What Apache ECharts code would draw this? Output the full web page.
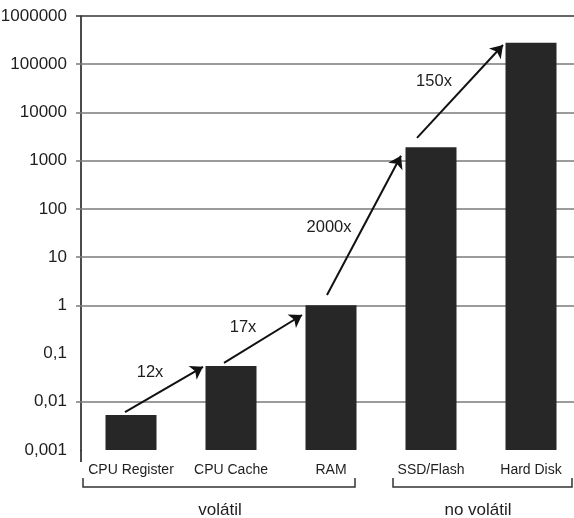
<!DOCTYPE html>
<html><head><meta charset="utf-8">
<script src="https://cdn.jsdelivr.net/npm/echarts@6/dist/echarts.min.js"></script>
<style>html,body{margin:0;padding:0;background:#fff}#c{width:574px;height:518px}</style>
</head><body><div id="c"></div>
<script>
const categories = ['CPU Register', 'CPU Cache', 'RAM', 'SSD/Flash', 'Hard Disk'];
const latency = [0.0053, 0.055, 1, 1900, 280000];
const yTicks = [0.001, 0.01, 0.1, 1, 10, 100, 1000, 10000, 100000, 1000000];
const gridValues = [0.01, 1, 10, 100, 1000, 10000, 100000, 1000000];
const arrowStarts = [[-0.06, 0.0061], [0.93, 0.064], [1.96, 1.64], [2.86, 2960]];
const arrowEnds = [[0.72, 0.053], [1.71, 0.63], [2.70, 1260], [3.72, 250000]];
const ratioLabels = ['12x', '17x', '2000x', '150x'];
const ratioPos = [[0.19, 0.0415], [1.12, 0.356], [1.98, 40.4], [3.03, 43000]];
const groups = ['volátil', 'no volátil'];

const FONT = "'Liberation Sans',Arial,sans-serif";
const yMin = 0.001, yMax = 1000000;
const TXT = '#1e1e1e';

const chart = echarts.init(document.getElementById('c'), null, {renderer: 'canvas'});
chart.setOption({
  animation: false,
  backgroundColor: '#fff',
  grid: {left: 81, top: 16, width: 500, height: 434, containLabel: false, outerBoundsMode: 'none'},
  xAxis: [
    {type: 'category', data: categories, gridIndex: 0,
     axisLine: {show: false}, axisTick: {show: false}, splitLine: {show: false},
     axisLabel: {margin: 13, fontSize: 14, color: TXT, fontFamily: FONT, interval: 0}},
    {type: 'value', min: -0.5, max: 4.5, show: false, gridIndex: 0}
  ],
  yAxis: {
    type: 'log', logBase: 10, min: yMin, max: yMax, splitNumber: 9,
    axisLine: {show: true, onZero: false, lineStyle: {color: '#111', width: 1.5}},
    axisTick: {show: false},
    splitLine: {show: false},
    axisLabel: {customValues: yTicks, margin: 14, fontSize: 17, color: TXT, fontFamily: FONT,
      formatter: v => (v < 1 ? String(+v.toPrecision(3)).replace('.', ',') : String(Math.round(v)))}
  },
  graphic: [
    {type: 'line', shape: {x1: 81, y1: 450, x2: 81, y2: 462}, style: {stroke: '#111', lineWidth: 1.5}},
    {type: 'polyline', shape: {points: [[83, 478], [83, 487], [355, 487], [355, 478]]}, style: {stroke: '#333', lineWidth: 1.5, fill: null}},
    {type: 'polyline', shape: {points: [[393, 478], [393, 487], [572, 487], [572, 478]]}, style: {stroke: '#333', lineWidth: 1.5, fill: null}},
    {type: 'text', x: 220, y: 510, style: {text: groups[0], fill: TXT, font: '17px ' + FONT, textAlign: 'center', textVerticalAlign: 'middle'}},
    {type: 'text', x: 478, y: 510, style: {text: groups[1], fill: TXT, font: '17px ' + FONT, textAlign: 'center', textVerticalAlign: 'middle'}}
  ],
  series: [
    {
      type: 'lines', coordinateSystem: 'cartesian2d', xAxisIndex: 1, yAxisIndex: 0, z: 1, clip: false, silent: true,
      symbol: ['none', 'none'],
      lineStyle: {color: '#7a7a7a', width: 1.5, opacity: 1, curveness: 0},
      data: gridValues.map(v => ({coords: [[-0.55, v], [4.6, v]], lineStyle: {color: v === yMax ? '#333' : '#7a7a7a'}}))
    },
    {
      type: 'scatter', xAxisIndex: 1, yAxisIndex: 0, symbolSize: 0, clip: false, z: 4,
      itemStyle: {opacity: 1},
      data: ratioPos.map((p, i) => ({value: [p[0], p[1]], label: {formatter: ratioLabels[i]}})),
      label: {show: true, position: 'inside', fontSize: 16.5, color: TXT, fontFamily: FONT}
    },
    {
      type: 'custom', xAxisIndex: 0, yAxisIndex: 0, z: 3,
      data: categories.map((c, i) => [i, latency[i]]),
      encode: {x: 0, y: 1},
      renderItem: function (params, api) {
        const i = api.value(0), v = api.value(1);
        const top = api.coord([i, v]);
        const bot = api.coord([i, yMin]);
        const w = api.size([1, 1])[0] * 0.51;
        return {type: 'rect', shape: {x: top[0] - w / 2, y: top[1], width: w, height: bot[1] - top[1]},
                style: {fill: '#272727'}};
      }
    },
    {
      type: 'lines', coordinateSystem: 'cartesian2d', xAxisIndex: 1, yAxisIndex: 0, z: 5,
      symbol: ['none', 'arrow'], symbolSize: 12,
      lineStyle: {color: '#111', width: 2, opacity: 1, curveness: 0},
      data: arrowStarts.map((s, i) => ({coords: [s, arrowEnds[i]]}))
    }
  ]
});
</script></body></html>
